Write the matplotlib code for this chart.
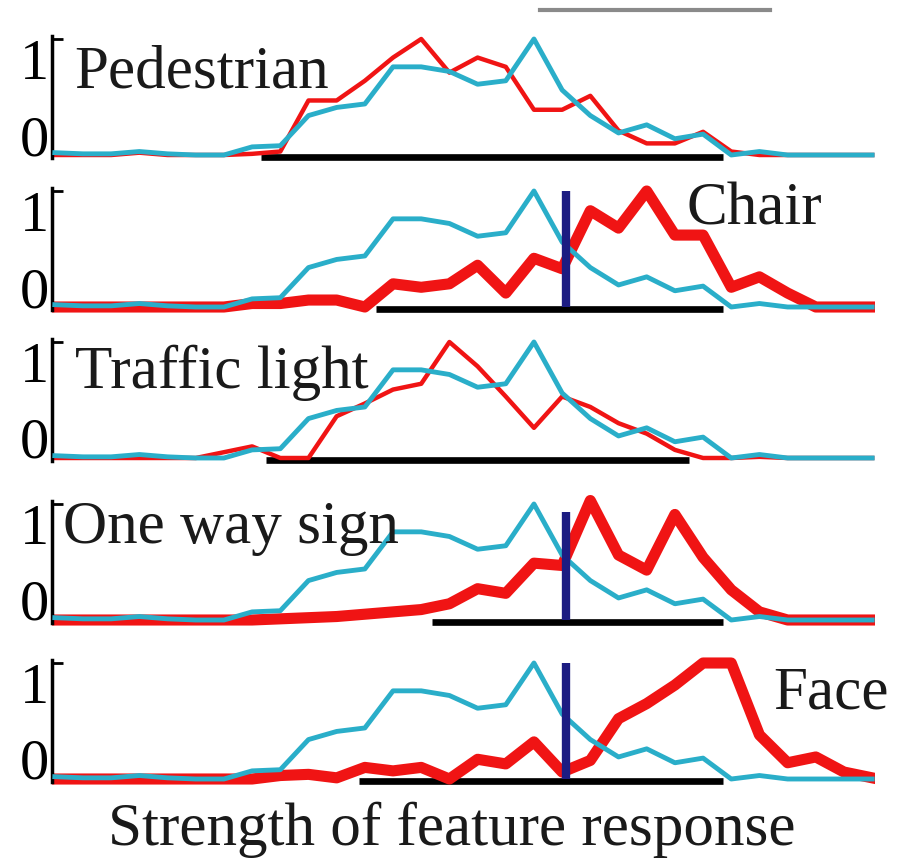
import matplotlib.pyplot as plt
from matplotlib.lines import Line2D

plt.rcParams['font.family'] = 'serif'
plt.rcParams['font.serif'] = ['Liberation Serif', 'DejaVu Serif']

# 30 bins of feature response strength
bins = list(range(30))

# reference (all classes) curve, same in every panel
blue = [0.02, 0.01, 0.01, 0.03, 0.01, 0.0, 0.0, 0.07, 0.08, 0.34, 0.41, 0.44, 0.76, 0.76, 0.72,
        0.61, 0.64, 1.0, 0.56, 0.34, 0.19, 0.26, 0.14, 0.18, 0.0, 0.03, 0.0, 0.0, 0.0, 0.0]

red_ped = [0.0, 0.0, 0.0, 0.02, 0.0, 0.0, 0.0, 0.01, 0.03, 0.47, 0.47, 0.64, 0.84, 1.0, 0.71,
           0.84, 0.76, 0.39, 0.39, 0.51, 0.21, 0.1, 0.1, 0.2, 0.03, 0.0, 0.0, 0.0, 0.0, 0.0]
red_chair = [0.0, 0.0, 0.0, 0.0, 0.0, 0.0, 0.0, 0.03, 0.03, 0.06, 0.06, 0.0, 0.2, 0.17, 0.2,
             0.36, 0.12, 0.42, 0.33, 0.83, 0.68, 1.0, 0.62, 0.62, 0.17, 0.26, 0.12, 0.0, 0.0, 0.0]
red_traffic = [0.0, 0.0, 0.0, 0.0, 0.0, 0.0, 0.05, 0.1, 0.0, 0.0, 0.36, 0.47, 0.59, 0.64, 1.0,
               0.79, 0.53, 0.26, 0.53, 0.44, 0.3, 0.21, 0.07, 0.0, 0.0, 0.01, 0.0, 0.0, 0.0, 0.0]
red_oneway = [0.0, 0.0, 0.0, 0.0, 0.0, 0.0, 0.0, 0.0, 0.01, 0.02, 0.03, 0.05, 0.07, 0.09, 0.14,
              0.27, 0.23, 0.49, 0.47, 1.03, 0.56, 0.43, 0.91, 0.54, 0.26, 0.07, 0.0, 0.0, 0.0, 0.0]
red_face = [0.0, 0.0, 0.0, 0.0, 0.0, 0.0, 0.0, 0.0, 0.03, 0.04, 0.01, 0.1, 0.07, 0.1, 0.0,
            0.17, 0.13, 0.32, 0.06, 0.16, 0.52, 0.65, 0.81, 1.0, 1.0, 0.38, 0.14, 0.19, 0.06, 0.01]

names = ['Pedestrian', 'Chair', 'Traffic light', 'One way sign', 'Face']
reds = [red_ped, red_chair, red_traffic, red_oneway, red_face]
thick = [False, True, False, True, True]
# black range bar along the baseline
bar_start = [7.3, 11.4, 7.5, 13.4, 10.8]
bar_end = [23.7, 23.7, 22.5, 23.7, 23.7]
# threshold marker (None = not shown)
thresh_x = [None, 18.15, None, 18.15, 18.15]
thresh_h = [None, 1.0, None, 0.93, 1.0]
# label placement (x bin, y value)
label_x = [0.7, 22.4, 0.7, 0.3, 25.5]
label_y = [0.58, 0.71, 0.60, 0.66, 0.61]

BLUE = '#2aaec9'
RED = '#f01414'
NAVY = '#1c1c82'

fig = plt.figure(figsize=(8.98, 8.67), dpi=100)
W, H = 898.0, 867.0
baselines = [155, 307, 458, 620, 779]
unit = 116.0

for i in range(5):
    top_px = baselines[i] - 1.12 * unit
    bot_px = baselines[i] + 0.12 * unit
    ax = fig.add_axes([52 / W, 1 - bot_px / H, 823 / W, (bot_px - top_px) / H])
    ax.set_xlim(-0.1, 29.1)
    ax.set_ylim(-0.12, 1.12)

    ax.plot([bar_start[i], bar_end[i]], [-0.02, -0.02], color='black', lw=4.8,
            solid_capstyle='butt', zorder=1)
    lw_red = 8 if thick[i] else 3.2
    ax.plot(bins, reds[i], color=RED, lw=lw_red, zorder=2)
    ax.plot(bins, blue, color=BLUE, lw=3.5, zorder=3)
    if thresh_x[i] is not None:
        ax.plot([thresh_x[i], thresh_x[i]], [0, thresh_h[i]], color=NAVY, lw=6,
                solid_capstyle='butt', zorder=4)

    ax.text(label_x[i], label_y[i], names[i], fontsize=44, va='baseline', ha='left',
            color='#1a1a1a', clip_on=False, zorder=5)

    for s in ['top', 'right', 'bottom']:
        ax.spines[s].set_visible(False)
    ax.spines['left'].set_linewidth(2.5)
    ax.spines['left'].set_bounds(-0.03, 1.03)
    ax.set_xticks([])
    ax.set_yticks([0, 1])
    ax.set_yticklabels(['0', '1'])
    ax.tick_params(axis='y', direction='in', length=8, width=2, labelsize=42, pad=2)
    labs = ax.get_yticklabels()
    labs[0].set_va('baseline')
    labs[1].set_va('top')
    ax.patch.set_alpha(0)

fig.text(0.503, 1 - 845 / H, 'Strength of feature response', fontsize=44,
         ha='center', va='baseline', color='#1a1a1a')

# fragment of a gray rule at the very top
fig.add_artist(Line2D([540 / W, 770 / W], [1 - 10 / H, 1 - 10 / H], color='#8a8a8a', lw=3))

fig.savefig('out.png', dpi=100)
